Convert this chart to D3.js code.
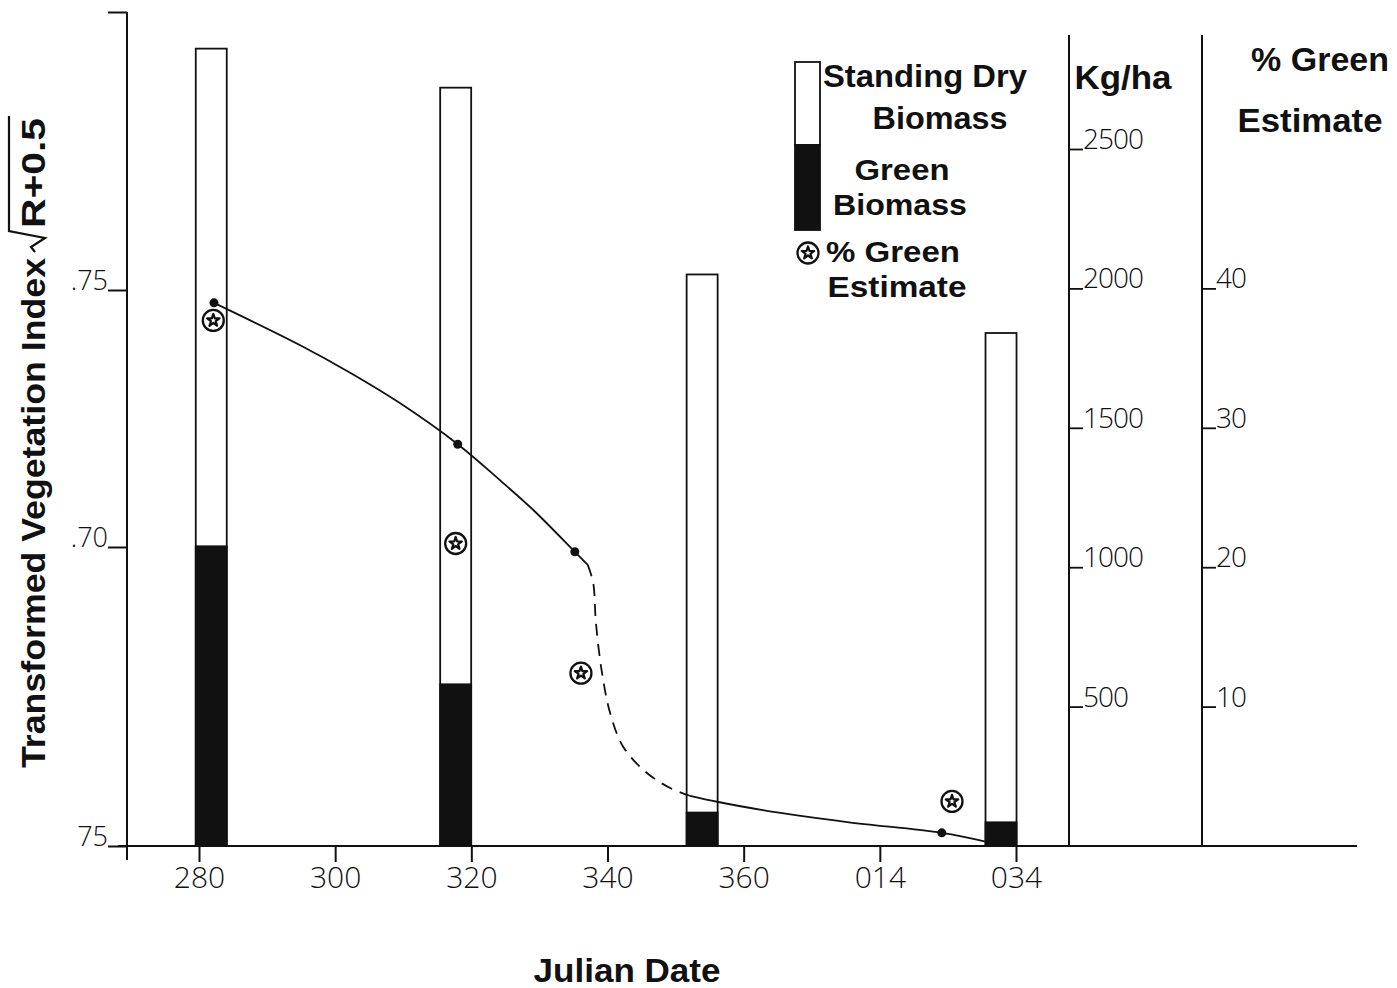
<!DOCTYPE html>
<html><head><meta charset="utf-8">
<script src="https://cdn.jsdelivr.net/npm/d3@7"></script>
<style>body{margin:0;background:#fff}</style>
</head><body><svg id="c" width="1397" height="988" xmlns="http://www.w3.org/2000/svg"></svg>
<script>
// ---------- data ----------
const julianTicks = [280, 300, 320, 340, 360, 380, 400];
const julianTickLabels = ["280", "300", "320", "340", "360", "014", "034"];
const tviTicks = [0.65, 0.70, 0.75, 0.80];
const tviTickLabels = ["75", ".70", ".75", ""];
const kgTicks = [500, 1000, 1500, 2000, 2500];
const pctTicks = [10, 20, 30, 40];

const barDates = [281.8, 317.7, 353.9, 397.8];
const totalBiomass = [2860, 2720, 2050, 1840];   // standing dry + green, kg/ha
const greenBiomass = [1075, 580, 120, 85];       // kg/ha

const estDates = [282.1, 317.7, 336.1, 390.6];
const pctGreen = [37.7, 21.7, 12.4, 3.2];

const tviSolidDatesA = [282.2, 294.8, 302.2, 309.5, 318.0, 324.2, 329.1, 335.2, 337.1];
const tviSolidValsA  = [0.7475, 0.7393, 0.7339, 0.7280, 0.7200, 0.7130, 0.7072, 0.6992, 0.6970];
const tviDashDates   = [337.1, 337.9, 338.3, 339.2, 340.4, 342.3, 345.8, 349.2, 352.1];
const tviDashVals    = [0.6970, 0.6940, 0.6873, 0.6789, 0.6722, 0.6666, 0.6622, 0.6597, 0.6584];
const tviSolidDatesB = [352.1, 356.1, 362.8, 375.2, 389.1, 395.7];
const tviSolidValsB  = [0.6584, 0.6574, 0.6560, 0.6540, 0.6522, 0.6507];
const tviDotDates = [282.2, 318.0, 335.2, 389.1];
const tviDotVals  = [0.7475, 0.7200, 0.6992, 0.6522];

// ---------- setup ----------
const svg = d3.select("#c");
const BOLD = "'Liberation Sans', Arial, Helvetica, sans-serif";
const LIGHT = "'Open Sans', 'DejaVu Sans', sans-serif";
const LW = 300;

const x = d3.scaleLinear().domain([280, 400]).range([199, 1016]);
const yT = d3.scaleLinear().domain([0.65, 0.70, 0.75, 0.80]).range([846, 547, 290, 12]);
const yKg = d3.scaleLinear().domain([0, 2500]).range([846, 149]);
const yPct = d3.scaleLinear().domain([0, 50]).range([846, 149]);

const ink = "#111";

// ---------- bars ----------
const barW = 31;
const bars = svg.append("g");
barDates.forEach((d, i) => {
  bars.append("rect").attr("x", x(d) - barW / 2).attr("y", yKg(totalBiomass[i]))
    .attr("width", barW).attr("height", yKg(0) - yKg(totalBiomass[i]))
    .attr("fill", "#fff").attr("stroke", ink).attr("stroke-width", 1.8);
  bars.append("rect").attr("x", x(d) - barW / 2).attr("y", yKg(greenBiomass[i]))
    .attr("width", barW).attr("height", yKg(0) - yKg(greenBiomass[i]))
    .attr("fill", ink).attr("stroke", ink).attr("stroke-width", 1.8);
});

// ---------- axes ----------
// bottom
const gx = svg.append("g").attr("transform", `translate(0,${yT(0.65)})`)
  .call(d3.axisBottom(x).tickValues(julianTicks).tickSize(16).tickPadding(4)
    .tickFormat((d, i) => julianTickLabels[i]));
gx.select(".domain").remove();
gx.selectAll("line").attr("stroke", ink).attr("stroke-width", 2);
gx.selectAll("text").attr("font-family", LIGHT).attr("font-weight", LW)
  .attr("font-size", 30).attr("fill", ink).attr("dy", "0.74em");
svg.append("line").attr("x1", 118).attr("x2", 1357).attr("y1", 846).attr("y2", 846)
  .attr("stroke", ink).attr("stroke-width", 2);

// left
const gy = svg.append("g").attr("transform", "translate(127,0)")
  .call(d3.axisLeft(yT).tickValues(tviTicks).tickSize(19)
    .tickFormat((d, i) => tviTickLabels[i]));
gy.select(".domain").remove();
gy.selectAll("line").attr("stroke", ink).attr("stroke-width", 2);
gy.selectAll("text").attr("font-family", LIGHT).attr("font-weight", LW)
  .attr("font-size", 27).attr("fill", ink).attr("x", -19).attr("dy", "-0.02em");
svg.append("line").attr("x1", 127).attr("x2", 127).attr("y1", 12).attr("y2", 860)
  .attr("stroke", ink).attr("stroke-width", 2);

// right axes
function rightAxis(scale, ticks, xpos) {
  const g = svg.append("g").attr("transform", `translate(${xpos},0)`)
    .call(d3.axisRight(scale).tickValues(ticks).tickSize(14).tickFormat(d3.format("d")));
  g.select(".domain").remove();
  g.selectAll("line").attr("stroke", ink).attr("stroke-width", 1.8);
  g.selectAll("text").attr("font-family", LIGHT).attr("font-weight", LW)
    .attr("font-size", 28).attr("fill", ink).attr("x", 14).attr("dy", "-0.02em")
    .attr("letter-spacing", "-1px");
  svg.append("line").attr("x1", xpos).attr("x2", xpos).attr("y1", 35).attr("y2", 846)
    .attr("stroke", ink).attr("stroke-width", 2);
}
rightAxis(yKg, kgTicks, 1069);
rightAxis(yPct, pctTicks, 1202);

// ---------- TVI line ----------
const line = d3.line().x(d => x(d[0])).y(d => yT(d[1])).curve(d3.curveCatmullRom.alpha(0.5));
const zipS = (a, b) => a.map((v, i) => [v, b[i]]);
svg.append("path").attr("d", line(zipS(tviSolidDatesA, tviSolidValsA)))
  .attr("fill", "none").attr("stroke", ink).attr("stroke-width", 1.8);
svg.append("path").attr("d", line(zipS(tviDashDates, tviDashVals)))
  .attr("fill", "none").attr("stroke", ink).attr("stroke-width", 1.8)
  .attr("stroke-dasharray", "12,8");
svg.append("path").attr("d", line(zipS(tviSolidDatesB, tviSolidValsB)))
  .attr("fill", "none").attr("stroke", ink).attr("stroke-width", 1.8);
svg.selectAll("circle.dot").data(zipS(tviDotDates, tviDotVals)).enter()
  .append("circle").attr("class", "dot").attr("cx", d => x(d[0])).attr("cy", d => yT(d[1]))
  .attr("r", 4.5).attr("fill", ink);

// ---------- % green estimate symbols ----------
const star = d3.symbol().type(d3.symbolStar).size(48);
function estSymbol(g, cx, cy) {
  const s = g.append("g").attr("transform", `translate(${cx},${cy})`);
  s.append("circle").attr("r", 10.5).attr("fill", "#fff").attr("stroke", ink).attr("stroke-width", 2.3);
  s.append("path").attr("d", star()).attr("fill", "none").attr("stroke", ink).attr("stroke-width", 2.2)
    .attr("stroke-linejoin", "round");
}
estDates.forEach((d, i) => estSymbol(svg, x(d), yPct(pctGreen[i])));

// ---------- legend ----------
const lg = svg.append("g");
lg.append("rect").attr("x", 795).attr("y", 62).attr("width", 25).attr("height", 83)
  .attr("fill", "#fff").attr("stroke", ink).attr("stroke-width", 1.8);
lg.append("rect").attr("x", 795).attr("y", 145).attr("width", 25).attr("height", 85)
  .attr("fill", ink).attr("stroke", ink).attr("stroke-width", 1.8);
estSymbol(lg, 808, 253);
function btext(t, cx, by, size, len) {
  const el = svg.append("text").attr("x", cx).attr("y", by).attr("text-anchor", "middle")
    .attr("font-family", BOLD).attr("font-weight", "bold").attr("font-size", size)
    .attr("fill", ink).text(t);
  if (len) el.attr("textLength", len).attr("lengthAdjust", "spacingAndGlyphs");
}
btext("Standing Dry", 925, 87, 31, 204);
btext("Biomass", 940, 129, 31, 135);
btext("Green", 902, 180, 30, 95);
btext("Biomass", 900, 215, 30, 134);
btext("% Green", 893, 262, 29, 134);
btext("Estimate", 897, 297, 30, 139);
btext("Kg/ha", 1123, 89, 33, 97);
btext("% Green", 1320, 71, 33, 138);
btext("Estimate", 1310, 132, 33, 145);
btext("Julian Date", 627, 982, 34, 187);

// ---------- y-axis title with radical ----------
const yt = svg.append("g").attr("transform", "translate(45,768) rotate(-90)");
yt.append("text").attr("x", 0).attr("y", 0)
  .attr("font-family", BOLD).attr("font-weight", "bold").attr("font-size", 34)
  .attr("fill", ink).attr("textLength", 510).attr("lengthAdjust", "spacingAndGlyphs")
  .text("Transformed Vegetation Index");
const r0 = 516;
yt.append("path")
  .attr("d", `M${r0},-10 L${r0 + 5},-14 L${r0 + 14},0 L${r0 + 21},-36 L${r0 + 136},-36`)
  .attr("fill", "none").attr("stroke", ink).attr("stroke-width", 2.2);
yt.append("text").attr("x", r0 + 24).attr("y", 0)
  .attr("font-family", BOLD).attr("font-weight", "bold").attr("font-size", 34)
  .attr("fill", ink).attr("textLength", 110).attr("lengthAdjust", "spacingAndGlyphs").text("R+0.5");
</script>
</body></html>
